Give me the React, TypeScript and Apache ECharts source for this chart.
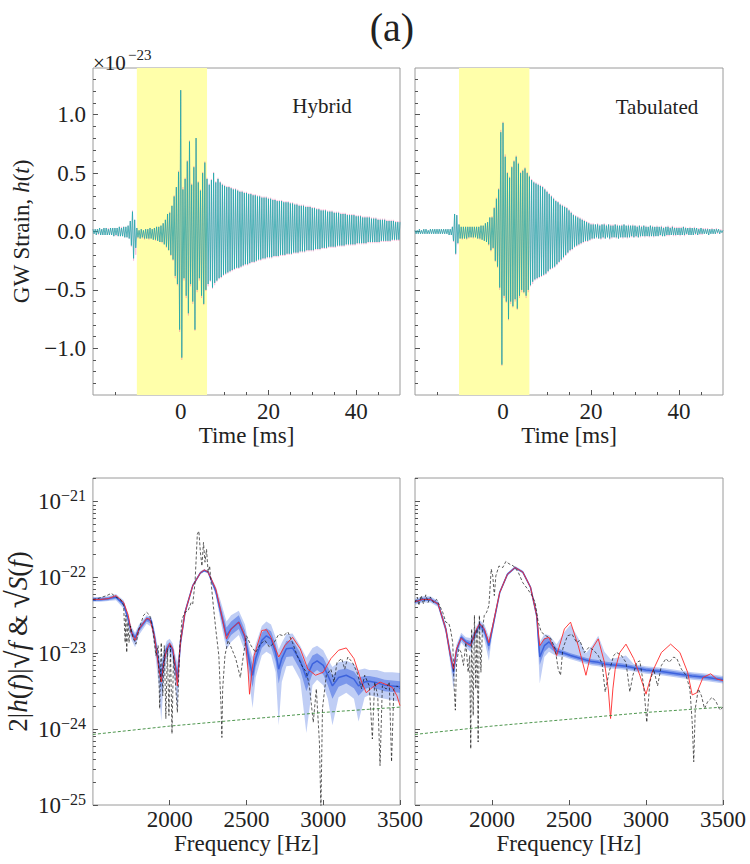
import React, { useEffect, useRef } from 'react';
import * as echarts from 'echarts';

const SERIF = 'Liberation Serif, DejaVu Serif, serif';
const INK = '#222222';

// ---------- top panels: GW strain (units of 1e-25, i.e. hundredths of 1e-23) ----------
const T_START_MS = -20;
const T_STEP_MS = 0.25;

const HYBRID_TEAL = [
  2,-2,2,-3,2,-2,3,-3,2,-3,3,-3,3,-3,2,-3,3,-3,3,-4,3,-3,3,-4,4,-4,3,-4,4,-5,4,-5,5,-6,
  9,-12,17,-23,10,-14,3,
  -5,1,-6,2,-5,1,-6,2,-6,2,-6,3,-6,2,-7,3,-7,4,-8,4,-9,5,-9,7,
  -11,10,-13,15,-16,16,-20,22,-24,30,-38,38,-45,51,-84,
  121,-108,36,-40,45,-55,60,-70,77,-45,40,-60,55,-84,80,-50,42,-40,35,-55,50,-62,59,-50,45,-45,40,-42,44,-48,50,-44,42,-42,45,-40,42,-39,
  40,-37,
  39,-36,38,-35,38,-34,37,-33,36,-32,36,-31,35,-31,34,-30,34,-29,33,-28,
  33,-28,32,-27,32,-26,31,-26,31,-25,30,-24,30,-24,29,-23,29,-23,29,-22,
  28,-22,28,-22,27,-21,27,-21,26,-21,26,-20,26,-20,25,-20,25,-19,25,-19,
  24,-19,24,-18,23,-18,23,-18,22,-17,22,-17,22,-17,21,-16,21,-16,21,-16,
  20,-16,20,-15,19,-15,19,-15,18,-14,18,-14,18,-14,17,-13,17,-13,17,-13,
  16,-13,16,-12,16,-12,15,-12,15,-12,15,-11,14,-11,14,-11,14,-11,14,-11,
  13,-10,13,-10,13,-10,12,-10,12,-10,12,-9,12,-9,11,-9,11,-9,11,-9,
  10,-9,10,-8,10,-8,10,-8,9,-8,9,-8,9,-7,9,-7,8,-7,8,-7,
  8,
];

const HYBRID_PINK = [
  2,-2,2,-3,2,-3,3,-3,2,-3,3,-3,3,-3,3,-3,3,-3,3,-4,3,-4,3,-4,4,-4,4,-4,4,-5,4,-5,5,-6,
  9,-13,18,-25,10,-20,3,
  -6,1,-6,2,-6,1,-7,2,-6,2,-7,3,-6,2,-7,3,-8,4,-8,4,-9,5,-10,7,
  -11,10,-14,15,-16,17,-21,22,-25,31,-40,38,-46,52,-86,
  121,-110,38,-42,46,-57,61,-72,78,-47,41,-62,56,-85,80,-52,43,-42,36,-57,51,-63,60,-51,46,-47,41,-43,45,-49,51,-46,43,-43,46,-41,43,-40,
  41,-38,
  40,-37,39,-36,39,-35,38,-34,37,-33,37,-32,36,-32,35,-31,35,-30,34,-29,
  34,-29,33,-28,33,-27,32,-27,32,-26,31,-25,31,-25,30,-24,30,-24,30,-23,
  29,-23,29,-23,28,-22,28,-22,27,-22,27,-21,27,-21,26,-21,26,-20,26,-20,
  25,-20,25,-19,24,-19,24,-19,23,-18,23,-18,23,-18,22,-17,22,-17,22,-17,
  21,-17,21,-16,20,-16,20,-16,19,-15,19,-15,19,-15,18,-14,18,-14,18,-14,
  17,-14,17,-13,17,-13,16,-13,16,-13,16,-12,15,-12,15,-12,15,-12,15,-12,
  14,-11,14,-11,14,-11,13,-11,13,-11,13,-10,13,-10,12,-10,12,-10,12,-10,
  11,-10,11,-9,11,-9,11,-9,10,-9,10,-9,10,-8,10,-8,9,-8,9,-8,
  9,
];

const TAB_TEAL = [
  1,-2,1,-2,2,-2,1,-2,2,-2,2,-2,1,-2,2,-2,2,-2,2,-2,2,-2,2,-2,2,-2,2,-2,2,-2,2,-3,2,-3,
  4,-8,15,-19,14,-10,6,
  -6,4,-6,4,-6,4,-6,4,-5,4,-5,4,-5,4,-5,4,-6,4,-6,5,-7,5,-8,7,
  -9,8,-11,12,-16,12,-14,20,-25,28,-30,36,-48,85,-114,
  93,-55,64,-60,50,-75,46,-60,55,-64,60,-58,64,-66,58,-55,50,-50,52,-52,54,-55,50,-50,47,-46,44,-43,42,-41,41,-40,40,-39,39,-38,38,-37,
  36,-36,
  34,-34,32,-32,30,-31,28,-30,26,-28,25,-26,23,-24,22,-22,21,-20,20,-18,
  18,-16,16,-15,14,-13,13,-12,12,-11,11,-10,10,-9,9,-8,8,-8,7,-7,
  6,-6,6,-6,6,-5,6,-6,5,-6,6,-5,6,-6,5,-5,6,-6,5,-5,
  5,-5,6,-5,5,-6,5,-5,5,-5,6,-5,5,-5,5,-5,5,-4,5,-5,
  5,-4,4,-5,5,-4,4,-4,5,-4,4,-4,4,-4,5,-4,4,-4,4,-4,
  4,-4,4,-3,4,-4,3,-4,4,-3,4,-3,3,-3,4,-3,3,-3,3,-3,
  3,-3,3,-3,4,-3,3,-2,3,-3,3,-3,3,-3,3,-2,3,-3,2,-2,
  3,-2,2,-2,2,-2,2,-3,2,-2,2,-2,2,-2,2,-1,2,-2,1,-1,
  1,
];

const TAB_PINK = [
  1,-2,1,-2,2,-2,1,-2,2,-2,2,-2,1,-2,2,-2,2,-2,2,-2,2,-2,2,-2,2,-2,2,-2,2,-2,2,-3,2,-3,
  4,-9,15,-20,14,-11,6,
  -6,4,-7,4,-6,4,-7,4,-6,4,-5,4,-6,4,-5,4,-6,4,-7,5,-7,5,-8,7,
  -9,8,-12,12,-17,13,-15,21,-26,29,-31,37,-50,87,-115,
  94,-57,66,-61,51,-76,47,-62,56,-65,61,-60,65,-67,59,-57,51,-52,53,-53,55,-57,51,-52,48,-47,45,-45,43,-42,42,-41,41,-40,40,-39,39,-38,
  37,-37,
  35,-35,33,-33,31,-32,29,-31,27,-29,26,-27,24,-25,23,-23,22,-21,21,-19,
  19,-17,17,-16,15,-14,14,-13,13,-12,12,-11,11,-10,10,-9,9,-9,8,-8,
  7,-7,7,-6,6,-6,7,-6,6,-7,6,-6,7,-6,6,-5,6,-7,6,-6,
  6,-5,6,-6,6,-6,5,-5,6,-6,6,-5,5,-6,6,-5,5,-5,6,-5,
  5,-5,5,-5,5,-5,5,-4,5,-5,5,-4,4,-5,5,-4,5,-5,4,-4,
  5,-4,4,-4,5,-4,4,-4,4,-4,5,-4,4,-3,5,-4,4,-4,4,-3,
  4,-4,4,-3,4,-4,4,-3,3,-3,4,-3,3,-3,4,-3,3,-3,3,-3,
  3,-3,3,-2,3,-2,3,-3,2,-2,3,-2,2,-2,3,-2,2,-2,2,-1,
  1,
];

const SHADE_MS = [-10, 6];
const TIME_TICKS = [0, 20, 40];
const TIME_MINOR = [-15, -10, -5, 5, 10, 15, 25, 30, 35, 45];
const STRAIN_TICKS = [-1, -0.5, 0, 0.5, 1];
const STRAIN_MINOR = [-1.3, -1.2, -1.1, -0.9, -0.8, -0.7, -0.6, -0.4, -0.3, -0.2, -0.1, 0.1, 0.2, 0.3, 0.4, 0.6, 0.7, 0.8, 0.9, 1.1, 1.2, 1.3];

// ---------- bottom panels: spectra, values given as log10 of amplitude ----------
const FREQ_TICKS = [2000, 2500, 3000, 3500];
const LOG_TICKS = [-25, -24, -23, -22, -21];

// Hybrid: injected (red)
const HYB_RED_F = [1500,1550,1600,1650,1700,1730,1750,1775,1800,1850,1870,1900,1930,1945,1960,1980,2000,2020,2040,2050,2060,2070,2100,2150,2200,2225,2250,2300,2330,2370,2400,2450,2490,2510,2520,2535,2550,2600,2630,2660,2710,2750,2800,2850,2900,2950,3000,3050,3100,3150,3200,3250,3280,3320,3370,3420,3450,3480,3500];
const HYB_RED_LOG = [-22.29,-22.29,-22.28,-22.24,-22.33,-22.50,-22.72,-22.83,-22.68,-22.54,-22.55,-22.77,-23.21,-23.38,-23.14,-22.96,-22.87,-22.94,-23.21,-23.43,-23.12,-22.86,-22.46,-22.11,-21.94,-21.90,-21.93,-22.15,-22.42,-22.81,-22.68,-22.59,-22.77,-23.21,-23.54,-23.25,-23.03,-22.70,-22.69,-22.79,-23.05,-22.90,-22.79,-22.94,-23.21,-23.29,-23.25,-23.07,-22.96,-22.93,-23.07,-23.38,-23.52,-23.45,-23.38,-23.42,-23.45,-23.56,-23.69];

// Hybrid: recovered median + 50% / 90% intervals (blue)
const HYB_REC_F = [1500,1550,1600,1650,1700,1730,1750,1775,1800,1850,1880,1900,1930,1945,1960,1980,2000,2020,2040,2050,2060,2070,2100,2150,2200,2225,2250,2300,2330,2370,2400,2450,2490,2520,2540,2560,2600,2630,2660,2690,2710,2730,2760,2800,2850,2890,2930,2960,3000,3030,3060,3100,3150,3200,3230,3270,3300,3350,3400,3450,3500];
const HYB_MED_LOG = [-22.29,-22.29,-22.28,-22.26,-22.35,-22.55,-22.72,-22.80,-22.68,-22.55,-22.57,-22.77,-23.16,-23.32,-23.12,-22.94,-22.89,-22.96,-23.21,-23.34,-23.12,-22.86,-22.46,-22.11,-21.94,-21.91,-21.93,-22.18,-22.44,-22.77,-22.68,-22.59,-22.79,-23.12,-23.29,-23.07,-22.83,-22.77,-22.81,-22.99,-23.21,-23.07,-22.94,-22.93,-23.10,-23.32,-23.14,-23.10,-23.16,-23.29,-23.43,-23.32,-23.29,-23.34,-23.43,-23.38,-23.37,-23.39,-23.42,-23.43,-23.44];
const HYB_HI50_LOG = [-22.27,-22.27,-22.26,-22.24,-22.32,-22.51,-22.68,-22.76,-22.65,-22.52,-22.54,-22.72,-23.08,-23.20,-23.05,-22.89,-22.85,-22.91,-23.12,-23.22,-23.05,-22.82,-22.44,-22.10,-21.93,-21.90,-21.92,-22.15,-22.36,-22.66,-22.58,-22.50,-22.70,-23.00,-23.15,-22.97,-22.73,-22.67,-22.71,-22.88,-23.07,-22.96,-22.84,-22.83,-22.99,-23.18,-23.03,-23.00,-23.06,-23.18,-23.30,-23.22,-23.20,-23.24,-23.32,-23.30,-23.30,-23.32,-23.35,-23.36,-23.37];
const HYB_LO50_LOG = [-22.31,-22.31,-22.30,-22.28,-22.38,-22.59,-22.77,-22.86,-22.72,-22.58,-22.61,-22.83,-23.28,-23.50,-23.22,-23.00,-22.94,-23.02,-23.32,-23.48,-23.22,-22.91,-22.48,-22.12,-21.95,-21.92,-21.94,-22.21,-22.50,-22.86,-22.76,-22.68,-22.88,-23.25,-23.45,-23.18,-22.93,-22.87,-22.91,-23.11,-23.40,-23.20,-23.05,-23.04,-23.22,-23.50,-23.27,-23.22,-23.28,-23.42,-23.60,-23.44,-23.40,-23.46,-23.56,-23.47,-23.45,-23.47,-23.50,-23.51,-23.52];
const HYB_HI90_LOG = [-22.26,-22.26,-22.25,-22.22,-22.30,-22.48,-22.65,-22.73,-22.62,-22.50,-22.52,-22.68,-23.00,-23.10,-22.98,-22.84,-22.81,-22.87,-23.05,-23.12,-22.99,-22.78,-22.42,-22.09,-21.92,-21.89,-21.91,-22.12,-22.30,-22.58,-22.50,-22.44,-22.62,-22.92,-23.05,-22.88,-22.64,-22.58,-22.62,-22.79,-22.95,-22.86,-22.75,-22.74,-22.90,-23.06,-22.93,-22.90,-22.96,-23.08,-23.18,-23.12,-23.10,-23.14,-23.22,-23.20,-23.22,-23.22,-23.25,-23.25,-23.26];
const HYB_LO90_LOG = [-22.32,-22.32,-22.31,-22.30,-22.41,-22.63,-22.82,-22.92,-22.76,-22.61,-22.65,-22.90,-23.45,-23.90,-23.40,-23.08,-23.00,-23.10,-23.50,-23.76,-23.35,-22.97,-22.50,-22.13,-21.96,-21.93,-21.95,-22.24,-22.56,-22.95,-22.85,-22.76,-22.98,-23.40,-23.72,-23.32,-23.03,-22.98,-23.02,-23.25,-23.95,-23.38,-23.17,-23.16,-23.35,-24.05,-23.42,-23.35,-23.42,-23.60,-23.95,-23.58,-23.52,-23.60,-23.90,-23.58,-23.55,-23.58,-23.60,-23.62,-23.64];

// Hybrid: data (black dashed)
const HYB_DATA_F = [1500,1530,1560,1590,1620,1650,1680,1700,1710,1715,1720,1728,1735,1745,1760,1780,1800,1830,1850,1870,1890,1910,1925,1935,1945,1955,1965,1975,1985,1995,2005,2015,2025,2040,2050,2065,2080,2100,2120,2140,2150,2165,2180,2190,2200,2210,2220,2230,2240,2250,2260,2280,2300,2320,2335,2340,2345,2360,2380,2400,2430,2460,2480,2500,2530,2560,2590,2620,2650,2680,2710,2740,2770,2800,2830,2860,2890,2910,2935,2955,2975,2985,2995,3020,3050,3070,3090,3120,3140,3160,3190,3220,3250,3270,3300,3320,3335,3355,3370,3385,3410,3430,3445,3460,3480,3500];
const HYB_DATA_LOG = [-22.29,-22.28,-22.26,-22.24,-22.21,-22.26,-22.29,-22.37,-22.86,-22.50,-22.99,-22.59,-22.86,-22.64,-22.79,-22.88,-22.68,-22.50,-22.46,-22.50,-22.68,-23.03,-22.90,-23.73,-22.86,-23.56,-22.90,-23.86,-22.94,-23.82,-22.90,-24.06,-23.03,-23.47,-23.78,-22.94,-22.55,-22.46,-22.44,-22.33,-22.35,-22.07,-21.43,-21.39,-21.67,-21.85,-21.54,-21.80,-21.63,-21.93,-21.85,-22.29,-22.68,-23.03,-23.73,-24.11,-23.47,-23.03,-22.83,-22.92,-23.07,-23.32,-23.03,-22.77,-22.90,-22.99,-22.88,-22.83,-22.92,-22.86,-22.75,-22.77,-22.72,-22.86,-23.03,-23.16,-23.25,-23.43,-23.91,-23.47,-24.17,-25.05,-23.73,-23.29,-23.21,-23.38,-23.12,-23.07,-23.21,-23.05,-23.12,-23.25,-23.47,-23.29,-23.43,-24.13,-23.38,-23.56,-24.48,-23.43,-23.47,-23.38,-24.43,-23.47,-23.43,-23.47];

// Tabulated: injected (red)
const TAB_RED_F = [1500,1550,1600,1650,1700,1730,1750,1770,1800,1830,1860,1900,1920,1950,1980,2000,2050,2100,2150,2200,2250,2290,2310,2340,2370,2420,2470,2510,2560,2610,2650,2690,2730,2755,2770,2785,2800,2830,2870,2920,2960,3000,3040,3100,3160,3220,3270,3300,3330,3370,3420,3460,3500];
const TAB_RED_LOG = [-22.32,-22.29,-22.29,-22.35,-22.68,-23.03,-23.21,-22.94,-22.80,-22.86,-22.90,-22.68,-22.61,-22.68,-22.86,-22.68,-22.20,-21.96,-21.87,-21.93,-22.13,-22.50,-22.90,-22.81,-22.79,-23.03,-22.68,-22.59,-22.90,-23.29,-22.94,-22.81,-23.12,-23.47,-23.86,-23.47,-23.21,-22.99,-22.88,-23.07,-23.29,-23.54,-23.25,-22.99,-22.88,-22.99,-23.25,-23.55,-23.52,-23.32,-23.27,-23.34,-23.36];

// Tabulated: recovered median + 50% / 90% intervals (blue)
const TAB_REC_F = [1500,1550,1600,1650,1700,1730,1750,1770,1800,1830,1860,1900,1920,1950,1980,2000,2050,2100,2150,2200,2250,2290,2310,2340,2370,2420,2470,2510,2560,2610,2650,2690,2730,2770,2830,2870,2920,3000,3100,3200,3300,3400,3500];
const TAB_MED_LOG = [-22.32,-22.29,-22.29,-22.35,-22.68,-23.03,-23.25,-22.96,-22.79,-22.85,-22.88,-22.70,-22.62,-22.70,-22.90,-22.70,-22.20,-21.96,-21.87,-21.93,-22.13,-22.50,-23.05,-22.90,-22.85,-22.97,-23.00,-23.03,-23.06,-23.09,-23.11,-23.12,-23.14,-23.15,-23.16,-23.17,-23.19,-23.22,-23.24,-23.27,-23.30,-23.32,-23.35];
const TAB_HI50_LOG = [-22.30,-22.27,-22.27,-22.33,-22.65,-22.98,-23.18,-22.92,-22.76,-22.82,-22.84,-22.67,-22.59,-22.66,-22.84,-22.67,-22.19,-21.95,-21.86,-21.92,-22.12,-22.47,-22.90,-22.80,-22.80,-22.93,-22.97,-23.00,-23.03,-23.06,-23.08,-23.09,-23.11,-23.12,-23.13,-23.14,-23.16,-23.19,-23.21,-23.24,-23.27,-23.29,-23.32];
const TAB_LO50_LOG = [-22.34,-22.31,-22.31,-22.37,-22.71,-23.08,-23.33,-23.00,-22.83,-22.89,-22.93,-22.74,-22.66,-22.75,-22.98,-22.74,-22.21,-21.97,-21.88,-21.94,-22.14,-22.53,-23.15,-22.98,-22.92,-23.01,-23.03,-23.06,-23.09,-23.12,-23.14,-23.15,-23.17,-23.18,-23.19,-23.20,-23.22,-23.25,-23.27,-23.30,-23.33,-23.35,-23.38];
const TAB_HI90_LOG = [-22.28,-22.25,-22.25,-22.31,-22.62,-22.94,-23.10,-22.88,-22.73,-22.79,-22.80,-22.64,-22.56,-22.62,-22.78,-22.64,-22.18,-21.94,-21.85,-21.91,-22.11,-22.44,-22.85,-22.75,-22.76,-22.88,-22.72,-22.62,-22.80,-23.00,-22.90,-22.77,-22.98,-23.08,-23.05,-23.03,-23.14,-23.17,-23.19,-23.22,-23.25,-23.27,-23.30];
const TAB_LO90_LOG = [-22.36,-22.33,-22.33,-22.39,-22.74,-23.14,-23.48,-23.05,-22.86,-22.93,-22.98,-22.78,-22.70,-22.82,-23.10,-22.78,-22.22,-21.98,-21.89,-21.95,-22.15,-22.56,-23.40,-23.05,-22.98,-23.04,-23.05,-23.08,-23.11,-23.14,-23.16,-23.17,-23.19,-23.20,-23.21,-23.22,-23.24,-23.27,-23.29,-23.32,-23.35,-23.37,-23.40];

// Tabulated: data (black dashed)
const TAB_DATA_F = [1500,1515,1525,1540,1555,1570,1585,1600,1620,1640,1660,1680,1700,1720,1730,1745,1755,1762,1770,1785,1800,1815,1830,1845,1855,1862,1868,1878,1886,1895,1903,1910,1918,1928,1938,1950,1965,1980,1995,2005,2015,2025,2045,2070,2090,2110,2140,2170,2200,2230,2260,2280,2300,2320,2350,2380,2410,2430,2445,2460,2490,2520,2550,2570,2600,2630,2660,2690,2715,2735,2760,2790,2810,2840,2870,2895,2915,2940,2960,2985,3005,3025,3050,3075,3100,3130,3150,3180,3200,3230,3260,3285,3300,3310,3320,3340,3360,3380,3400,3430,3455,3480,3500];
const TAB_DATA_LOG = [-22.33,-22.26,-22.37,-22.24,-22.35,-22.23,-22.33,-22.26,-22.33,-22.29,-22.37,-22.46,-22.59,-22.61,-22.68,-22.86,-23.47,-23.75,-23.12,-22.94,-22.99,-23.16,-22.86,-23.25,-23.03,-24.26,-22.68,-23.82,-22.50,-23.47,-22.68,-24.17,-22.50,-23.25,-22.68,-22.50,-22.46,-22.37,-21.89,-21.98,-22.24,-21.98,-21.85,-21.87,-21.79,-21.82,-21.85,-21.93,-22.07,-22.15,-22.24,-22.33,-22.59,-22.72,-22.77,-22.80,-22.94,-23.21,-23.29,-22.94,-22.77,-22.75,-22.86,-22.83,-22.99,-22.92,-22.96,-23.03,-23.14,-23.51,-23.25,-23.03,-22.99,-23.03,-23.12,-23.51,-23.29,-23.12,-23.10,-23.43,-23.91,-23.38,-23.21,-23.43,-23.16,-23.07,-23.12,-23.05,-23.07,-23.21,-23.29,-23.47,-23.91,-24.43,-23.73,-23.47,-23.56,-23.73,-23.64,-23.58,-23.64,-23.75,-23.71];

// Detector noise ASD (green dashed), shared
const NOISE_F = [1500, 2000, 2500, 3000, 3500];
const NOISE_LOG = [-24.07, -23.96, -23.87, -23.78, -23.71];

// ---------- layout ----------
const GRIDS = [
  { left: 93, top: 68, width: 307, height: 327 },
  { left: 415, top: 68, width: 308, height: 327 },
  { left: 92, top: 478, width: 308, height: 327 },
  { left: 415, top: 478, width: 308, height: 327 },
];

const LOG_MINOR: number[] = [];
for (let n = -25; n <= -21; n++) {
  for (let k = 2; k <= 9; k++) {
    const v = n + Math.log10(k);
    if (v < -20.69) LOG_MINOR.push(v);
  }
}

type AxisSpec = {
  min: number;
  max: number;
  major: number[];
  minor: number[];
  labels?: number[];
  formatter?: (v: number) => string;
  rich?: any;
  margin?: number;
  name?: string;
  nameGap?: number;
  nameRich?: any;
};

function axesFor(dim: 'x' | 'y', grid: number, s: AxisSpec) {
  const position = dim === 'x' ? 'bottom' : 'left';
  const base = {
    gridIndex: grid,
    type: 'value',
    min: s.min,
    max: s.max,
    position,
    axisLine: { show: false, onZero: false },
    splitLine: { show: false },
    minorTick: { show: false },
  };
  const tick = (vals: number[], len: number) => ({
    show: vals.length > 0,
    inside: true,
    length: len,
    customValues: vals,
    lineStyle: { color: '#555', width: 1 },
  });
  const main: any = {
    ...base,
    axisTick: tick(s.major, 5),
    axisLabel: s.labels
      ? {
          show: true,
          customValues: s.labels,
          formatter: s.formatter,
          fontFamily: SERIF,
          fontSize: 23,
          color: INK,
          margin: s.margin ?? 6,
          rich: s.rich,
        }
      : { show: false },
  };
  if (s.name) {
    main.name = s.name;
    main.nameLocation = 'middle';
    main.nameGap = s.nameGap;
    main.nameTextStyle = { fontFamily: SERIF, fontSize: 23, color: INK, rich: s.nameRich };
  }
  const minor = { ...base, axisTick: tick(s.minor, 3), axisLabel: { show: false } };
  return [main, minor];
}

const fmtStrain = (v: number) => v.toFixed(1).replace('-', '\u2212');
const fmtPow = (v: number) => `{b|10}{s|\u2212${Math.abs(Math.round(v))}}`;
const powRich = {
  b: { fontFamily: SERIF, fontSize: 23, color: INK, lineHeight: 28 },
  s: { fontFamily: SERIF, fontSize: 16, color: INK, lineHeight: 16, verticalAlign: 'top' },
};
const nameRich = {
  n: { fontFamily: SERIF, fontSize: 23, color: INK },
  i: { fontFamily: SERIF, fontSize: 23, color: INK, fontStyle: 'italic' },
};
const nameRichBig = {
  n: { fontFamily: SERIF, fontSize: 27, color: INK },
  i: { fontFamily: SERIF, fontSize: 27, color: INK, fontStyle: 'italic' },
  r: { fontFamily: SERIF, fontSize: 33, color: INK },
};

const wave = (vals: number[]) => vals.map((v, i) => [T_START_MS + i * T_STEP_MS, v / 100]);
const pairs = (f: number[], v: number[]) => f.map((x, i) => [x, v[i]]);

function line(grid: number, data: number[][], color: string, width: number, z: number, dashed = false, opacity = 1) {
  return {
    type: 'line',
    xAxisIndex: grid * 2,
    yAxisIndex: grid * 2,
    data,
    symbol: 'none',
    showSymbol: false,
    silent: true,
    z,
    lineStyle: { color, width, opacity, type: dashed ? [3, 2] : 'solid' },
  };
}

function band(grid: number, F: number[], hi: number[], lo: number[], color: string, z: number) {
  return {
    type: 'custom',
    xAxisIndex: grid * 2,
    yAxisIndex: grid * 2,
    silent: true,
    clip: true,
    z,
    data: [[F[0], lo[0]]],
    renderItem: (_params: any, api: any) => {
      const pts: number[][] = [];
      for (let i = 0; i < F.length; i++) pts.push(api.coord([F[i], hi[i]]));
      for (let i = F.length - 1; i >= 0; i--) pts.push(api.coord([F[i], lo[i]]));
      return { type: 'polygon', shape: { points: pts }, style: { fill: color } };
    },
  };
}

function shade(grid: number) {
  return {
    type: 'line',
    xAxisIndex: grid * 2,
    yAxisIndex: grid * 2,
    data: [],
    silent: true,
    z: 1,
    markArea: {
      silent: true,
      itemStyle: { color: '#ffffaa', opacity: 1 },
      data: [[{ xAxis: SHADE_MS[0] }, { xAxis: SHADE_MS[1] }]],
    },
  };
}

function text(t: string, x: number, y: number, size: number, align = 'center') {
  return {
    type: 'text',
    x,
    y,
    silent: true,
    z: 100,
    style: {
      text: t,
      font: `${size}px ${SERIF}`,
      fill: INK,
      textAlign: align,
      textVerticalAlign: 'middle',
      align,
      verticalAlign: 'middle',
    },
  };
}

const TEAL = '#14a8a8';
const PINK = '#ee4f9c';
const BLUE = '#3d63dd';

export default function App() {
  const ref = useRef<HTMLDivElement>(null);
  useEffect(() => {
    if (!ref.current) return;
    const chart = echarts.init(ref.current, undefined, { renderer: 'svg' });

    const timeAxis = (g: number) =>
      axesFor('x', g, {
        min: -20, max: 50, major: TIME_TICKS, minor: TIME_MINOR, labels: TIME_TICKS,
        formatter: (v) => String(v), margin: 5, name: 'Time [ms]', nameGap: 28,
      });
    const freqAxis = (g: number) =>
      axesFor('x', g, {
        min: 1500, max: 3500, major: FREQ_TICKS, minor: [], labels: FREQ_TICKS,
        formatter: (v) => String(v), margin: 3, name: 'Frequency [Hz]', nameGap: 26,
      });

    const option: any = {
      animation: false,
      backgroundColor: '#ffffff',
      grid: GRIDS.map((g) => ({ ...g, show: true, borderColor: '#9a9a9a', borderWidth: 1, backgroundColor: 'transparent' })),
      xAxis: [...timeAxis(0), ...timeAxis(1), ...freqAxis(2), ...freqAxis(3)],
      yAxis: [
        ...axesFor('y', 0, {
          min: -1.4, max: 1.4, major: STRAIN_TICKS, minor: STRAIN_MINOR, labels: STRAIN_TICKS,
          formatter: fmtStrain, margin: 7,
          name: '{n|GW Strain, }{i|h}{n|(}{i|t}{n|)}', nameGap: 60, nameRich,
        }),
        ...axesFor('y', 1, { min: -1.4, max: 1.4, major: STRAIN_TICKS, minor: STRAIN_MINOR }),
        ...axesFor('y', 2, {
          min: -25, max: -20.69, major: LOG_TICKS, minor: LOG_MINOR, labels: LOG_TICKS,
          formatter: fmtPow, rich: powRich, margin: 7,
          name: '{n|2|}{i|h}{n|(}{i|f}{n|)|}{r|\u221A}{i|f}{n| & }{r|\u221A}{i|S}{n|(}{i|f}{n|)}', nameGap: 54,
          nameRich: nameRichBig,
        }),
        ...axesFor('y', 3, { min: -25, max: -20.69, major: LOG_TICKS, minor: LOG_MINOR }),
      ],
      series: [
        shade(0),
        line(0, wave(HYBRID_PINK), PINK, 0.45, 2, false, 0.55),
        line(0, wave(HYBRID_TEAL), TEAL, 0.8, 3, false, 0.9),
        shade(1),
        line(1, wave(TAB_PINK), PINK, 0.45, 2, false, 0.55),
        line(1, wave(TAB_TEAL), TEAL, 0.8, 3, false, 0.9),

        band(2, HYB_REC_F, HYB_HI90_LOG, HYB_LO90_LOG, 'rgba(65,105,225,0.33)', 2),
        band(2, HYB_REC_F, HYB_HI50_LOG, HYB_LO50_LOG, 'rgba(65,105,225,0.55)', 3),
        line(2, pairs(HYB_REC_F, HYB_MED_LOG), BLUE, 1.5, 4),
        line(2, pairs(HYB_RED_F, HYB_RED_LOG), '#ff2a2a', 0.9, 5),
        line(2, pairs(HYB_DATA_F, HYB_DATA_LOG), '#111111', 0.8, 6, true, 0.85),
        line(2, pairs(NOISE_F, NOISE_LOG), '#3a8a3a', 0.9, 6, true),

        band(3, TAB_REC_F, TAB_HI90_LOG, TAB_LO90_LOG, 'rgba(65,105,225,0.33)', 2),
        band(3, TAB_REC_F, TAB_HI50_LOG, TAB_LO50_LOG, 'rgba(65,105,225,0.55)', 3),
        line(3, pairs(TAB_REC_F, TAB_MED_LOG), BLUE, 1.5, 4),
        line(3, pairs(TAB_RED_F, TAB_RED_LOG), '#ff2a2a', 0.9, 5),
        line(3, pairs(TAB_DATA_F, TAB_DATA_LOG), '#111111', 0.8, 6, true, 0.85),
        line(3, pairs(NOISE_F, NOISE_LOG), '#3a8a3a', 0.9, 6, true),
      ],
      graphic: [
        text('(a)', 392, 27, 40),
        text('Hybrid', 322, 106, 21),
        text('Tabulated', 657, 107, 21),
        text('\u00D710', 93, 63, 21, 'left'),
        text('\u221223', 128, 55, 15, 'left'),
      ],
    };
    chart.setOption(option);
    return () => chart.dispose();
  }, []);

  return <div ref={ref} style={{ position: 'absolute', left: 0, top: 0, width: 750, height: 864 }} />;
}
